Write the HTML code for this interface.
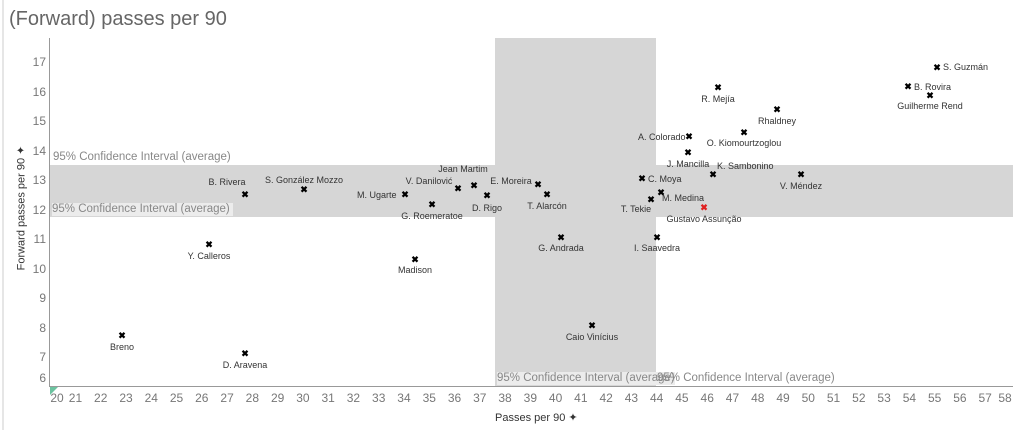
<!DOCTYPE html>
<html><head><meta charset="utf-8"><style>
body{margin:0;width:1023px;height:430px;background:#fff;position:relative;overflow:hidden;font-family:"Liberation Sans",sans-serif}
.a{position:absolute;white-space:nowrap}
.t{position:absolute;font-size:12px;color:#777;transform:translateX(-50%)}
.y{position:absolute;font-size:12px;color:#777;right:977px;transform:translateY(-50%);text-align:right}
.m{position:absolute;font-size:9px;line-height:9px;color:#000;transform:translate(-50%,-50%);font-weight:bold}
.l{position:absolute;font-size:9px;color:#333;white-space:nowrap;line-height:10px}
.c{transform:translateX(-50%)}
.ci{position:absolute;font-size:11.5px;color:#888;white-space:nowrap;line-height:13px}
</style></head><body>
<div style="position:absolute;left:2px;top:0;width:2px;height:430px;background:#e6e6e6"></div>
<div class="a" style="left:9px;top:8px;font-size:20px;color:#666">(Forward) passes per 90</div>
<div class="a" style="left:495px;top:38px;width:161px;height:348px;background:#d6d6d6"></div>
<div class="a" style="left:50px;top:165px;width:963px;height:52px;background:#d6d6d6"></div>
<div class="a" style="left:49px;top:38px;width:1px;height:349px;background:#999"></div>
<div class="a" style="left:49px;top:386px;width:964px;height:1px;background:#999"></div>
<div class="a" style="left:50px;top:387px;width:0;height:0;border-top:8px solid #6cc3a0;border-right:8px solid transparent"></div>
<div class="y" style="top:62px">17</div><div class="y" style="top:92px">16</div><div class="y" style="top:121px">15</div><div class="y" style="top:151px">14</div><div class="y" style="top:180px">13</div><div class="y" style="top:210px">12</div><div class="y" style="top:239px">11</div><div class="y" style="top:269px">10</div><div class="y" style="top:298px">9</div><div class="y" style="top:328px">8</div><div class="y" style="top:357px">7</div><div class="y" style="top:378px">6</div>
<div class="a" style="left:21px;top:208px;font-size:11px;color:#333;transform:translate(-50%,-50%) rotate(-90deg)">Forward passes per 90 ✦</div>
<div id="xt"></div>
<div class="a" style="left:495px;top:411px;font-size:11px;color:#333">Passes per 90 ✦</div>
<div class="ci" style="left:53px;top:151px">95% Confidence Interval (average)</div>
<div class="ci" style="left:52px;top:203px;background:#ececec;padding-right:3px">95% Confidence Interval (average)</div>
<div class="ci" style="left:497px;top:372px;background:#ececec">95% Confidence Interval (average)</div>
<div class="ci" style="left:657px;top:372px">95% Confidence Interval (average)</div>
<div class="m" style="left:937px;top:68px">✖</div><div class="l" style="left:943px;top:62px">S. Guzmán</div>
<div class="m" style="left:908px;top:87px">✖</div><div class="l" style="left:914px;top:82px">B. Rovira</div>
<div class="m" style="left:930px;top:96px">✖</div><div class="l c" style="left:930px;top:101px">Guilherme Rend</div>
<div class="m" style="left:718px;top:88px">✖</div><div class="l c" style="left:718px;top:94px">R. Mejía</div>
<div class="m" style="left:777px;top:110px">✖</div><div class="l c" style="left:777px;top:116px">Rhaldney</div>
<div class="m" style="left:689px;top:137px">✖</div><div class="l" style="left:638px;top:132px">A. Colorado</div>
<div class="m" style="left:744px;top:133px">✖</div><div class="l c" style="left:744px;top:138px">O. Kiomourtzoglou</div>
<div class="m" style="left:688px;top:153px">✖</div><div class="l c" style="left:688px;top:159px">J. Mancilla</div>
<div class="m" style="left:713px;top:175px">✖</div><div class="l" style="left:717px;top:161px">K. Sambonino</div>
<div class="m" style="left:801px;top:175px">✖</div><div class="l c" style="left:801px;top:181px">V. Méndez</div>
<div class="m" style="left:642px;top:179px">✖</div><div class="l" style="left:648px;top:174px">C. Moya</div>
<div class="m" style="left:661px;top:193px">✖</div><div class="l" style="left:662px;top:193px">M. Medina</div>
<div class="m" style="left:651px;top:200px">✖</div><div class="l c" style="left:636px;top:204px">T. Tekie</div>
<div class="m" style="left:704px;top:208px;color:#e02020">✖</div><div class="l c" style="left:704px;top:214px">Gustavo Assunção</div>
<div class="m" style="left:657px;top:238px">✖</div><div class="l c" style="left:657px;top:243px">I. Saavedra</div>
<div class="m" style="left:561px;top:238px">✖</div><div class="l c" style="left:561px;top:243px">G. Andrada</div>
<div class="m" style="left:592px;top:326px">✖</div><div class="l c" style="left:592px;top:332px">Caio Vinícius</div>
<div class="m" style="left:538px;top:185px">✖</div><div class="l c" style="left:511px;top:176px">E. Moreira</div>
<div class="m" style="left:547px;top:195px">✖</div><div class="l c" style="left:547px;top:201px">T. Alarcón</div>
<div class="m" style="left:474px;top:186px">✖</div><div class="l c" style="left:463px;top:164px">Jean Martim</div>
<div class="m" style="left:487px;top:196px">✖</div><div class="l c" style="left:487px;top:203px">D. Rigo</div>
<div class="m" style="left:458px;top:189px">✖</div><div class="l c" style="left:429px;top:176px">V. Danilović</div>
<div class="m" style="left:405px;top:195px">✖</div><div class="l" style="left:357px;top:190px">M. Ugarte</div>
<div class="m" style="left:432px;top:205px">✖</div><div class="l c" style="left:432px;top:211px">G. Roemeratoe</div>
<div class="m" style="left:304px;top:190px">✖</div><div class="l c" style="left:304px;top:175px">S. González Mozzo</div>
<div class="m" style="left:245px;top:195px">✖</div><div class="l c" style="left:227px;top:177px">B. Rivera</div>
<div class="m" style="left:209px;top:245px">✖</div><div class="l c" style="left:209px;top:251px">Y. Calleros</div>
<div class="m" style="left:415px;top:260px">✖</div><div class="l c" style="left:415px;top:265px">Madison</div>
<div class="m" style="left:122px;top:336px">✖</div><div class="l c" style="left:122px;top:342px">Breno</div>
<div class="m" style="left:245px;top:354px">✖</div><div class="l c" style="left:245px;top:360px">D. Aravena</div>
<script>
var s='';for(var v=20;v<=58;v++){var x=50.2+(v-20)*25.27;if(v==20)x=57;if(v==58)x=1005;s+='<div class="t" style="left:'+x+'px;top:391px">'+v+'</div>';}
document.getElementById('xt').innerHTML=s;
</script>
</body></html>
